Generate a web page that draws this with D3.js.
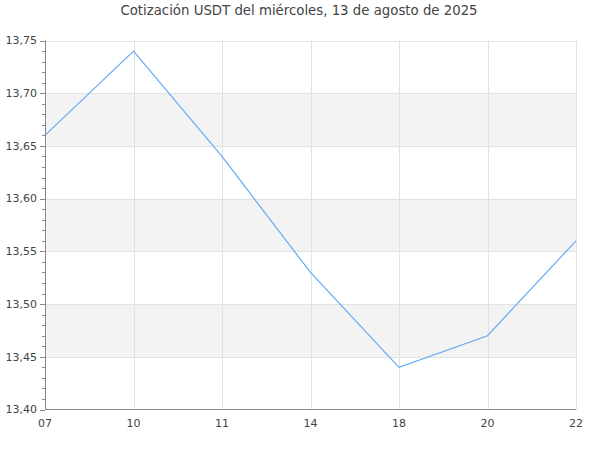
<!DOCTYPE html>
<html><head><meta charset="utf-8">
<script src="https://cdn.jsdelivr.net/npm/d3@7"></script>
<style>body{margin:0;background:#fff}svg{display:block;font-family:"DejaVu Sans",sans-serif}</style>
</head><body>
<svg id="c" width="600" height="450"></svg>
<script>
const categories = ["07","10","11","14","18","20","22"];
const values = [13.66,13.74,13.64,13.53,13.44,13.47,13.56];
const yTicks = [13.40,13.45,13.50,13.55,13.60,13.65,13.70,13.75];
const title = "Cotización USDT del miércoles, 13 de agosto de 2025";

const svg = d3.select("#c");
const m = {l:45, r:576, t:40.5, b:409.5};
const x = d3.scalePoint().domain(categories).range([m.l, m.r]);
const y = d3.scaleLinear().domain([13.40,13.75]).range([m.b, m.t]);
const fmt = v => d3.format(".2f")(v).replace(".", ",");

// bands
for (let i = 0; i < yTicks.length - 1; i++) {
  if (i % 2 === 1) {
    svg.append("rect").attr("x", m.l).attr("width", m.r - m.l)
      .attr("y", y(yTicks[i+1])).attr("height", y(yTicks[i]) - y(yTicks[i+1]))
      .attr("fill", "#f3f3f3");
  }
}
// horizontal grid
svg.append("g").selectAll("line").data(yTicks.slice(1)).join("line")
  .attr("x1", m.l).attr("x2", m.r)
  .attr("y1", d => Math.round(y(d)) + 0.5).attr("y2", d => Math.round(y(d)) + 0.5)
  .attr("stroke", "#e2e2e2");
// vertical grid
svg.append("g").selectAll("line").data(categories.slice(1)).join("line")
  .attr("x1", d => Math.round(x(d)) + 0.5).attr("x2", d => Math.round(x(d)) + 0.5)
  .attr("y1", m.t).attr("y2", m.b)
  .attr("stroke", "#e2e2e2");

// line
svg.append("path").datum(values)
  .attr("d", d3.line().x((d,i) => x(categories[i])).y(d => y(d)))
  .attr("fill", "none").attr("stroke", "#66aaf2").attr("stroke-width", 1.2);

// y axis
const minor = d3.range(13.40, 13.7501, 0.01);
const ya = svg.append("g");
ya.append("line").attr("x1", m.l+0.5).attr("x2", m.l+0.5).attr("y1", m.t).attr("y2", m.b).attr("stroke", "#888");
ya.selectAll(".mn").data(minor).join("line").attr("class","mn")
  .attr("x1", m.l - 3).attr("x2", m.l)
  .attr("y1", d => Math.round(y(d)) + 0.5).attr("y2", d => Math.round(y(d)) + 0.5)
  .attr("stroke", "#888");
ya.selectAll(".mj").data(yTicks).join("line").attr("class","mj")
  .attr("x1", m.l - 5).attr("x2", m.l)
  .attr("y1", d => Math.round(y(d)) + 0.5).attr("y2", d => Math.round(y(d)) + 0.5)
  .attr("stroke", "#888");
ya.selectAll("text").data(yTicks).join("text")
  .attr("x", m.l - 8).attr("y", d => y(d)).attr("dy", "0.35em")
  .attr("text-anchor", "end").attr("font-size", 11).attr("fill", "#444")
  .text(fmt);

// x axis
const xa = svg.append("g");
xa.append("line").attr("x1", m.l).attr("x2", m.r).attr("y1", m.b).attr("y2", m.b).attr("stroke", "#888");
xa.selectAll("text").data(categories).join("text")
  .attr("x", d => x(d)).attr("y", m.b + 17)
  .attr("text-anchor", "middle").attr("font-size", 11).attr("fill", "#444")
  .text(d => d);

svg.append("text").attr("x", 299).attr("y", 15).attr("text-anchor", "middle")
  .attr("font-size", 13.3).attr("fill", "#444").text(title);
</script>
</body></html>
